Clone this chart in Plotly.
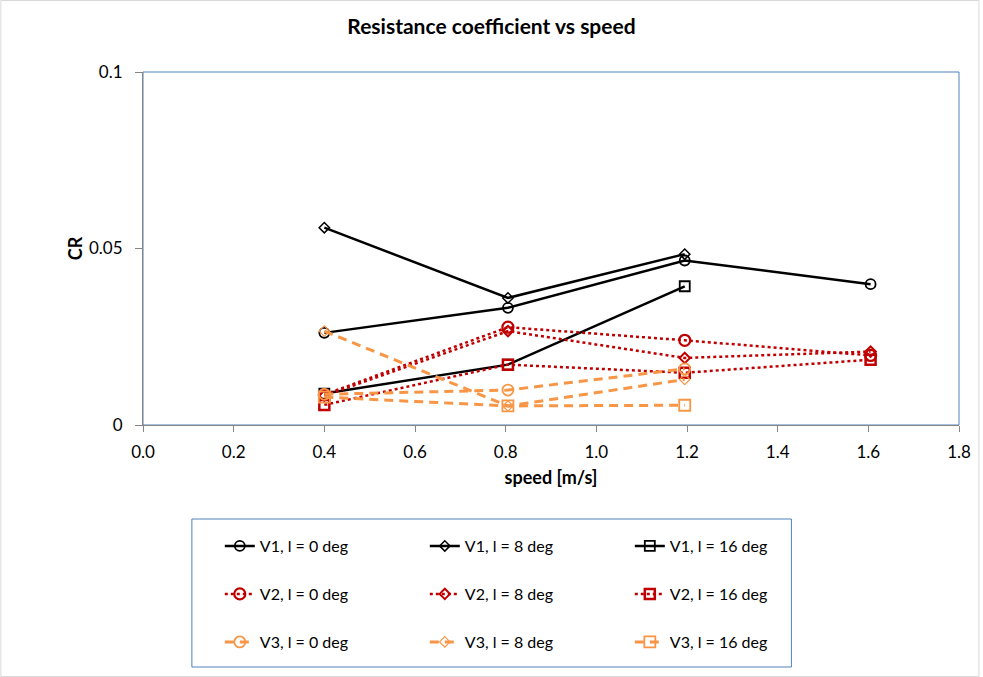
import plotly.graph_objects as go

W, H = 983, 677
L, R, T, B = 143, 22, 72, 252

speed = [0.40, 0.805, 1.195, 1.605]

names = ["V1, l = 0 deg", "V1, l = 8 deg", "V1, l = 16 deg",
         "V2, l = 0 deg", "V2, l = 8 deg", "V2, l = 16 deg",
         "V3, l = 0 deg", "V3, l = 8 deg", "V3, l = 16 deg"]

cr_v1_0 = [0.0261, 0.0332, 0.0466, 0.0399]
cr_v1_8 = [0.0559, 0.0360, 0.0484]
cr_v1_16 = [0.0089, 0.0171, 0.0393]
cr_v2_0 = [0.0086, 0.0277, 0.0240, 0.0197]
cr_v2_8 = [0.0083, 0.0266, 0.0190, 0.0208]
cr_v2_16 = [0.0057, 0.0171, 0.0148, 0.0185]
cr_v3_0 = [0.0087, 0.0099, 0.0159]
cr_v3_8 = [0.0266, 0.0054, 0.0129]
cr_v3_16 = [0.0079, 0.0054, 0.0056]

series = [cr_v1_0, cr_v1_8, cr_v1_16, cr_v2_0, cr_v2_8, cr_v2_16, cr_v3_0, cr_v3_8, cr_v3_16]

BLACK, RED, ORANGE = "#000000", "#C00000", "#F79646"
colors = [BLACK] * 3 + [RED] * 3 + [ORANGE] * 3
dashes = ["solid"] * 3 + ["dot"] * 3 + ["9px,6px"] * 3
widths = [2.5] * 3 + [2.5] * 3 + [3] * 3
symbols = ["circle-open", "diamond-open", "square-open"] * 3
msizes = [10, 8, 10, 11, 8, 10, 11, 8, 11]
mlw = [1.8, 1.5, 1.8, 2.2, 2, 2.5, 1.8, 1.2, 1.8]
legends = ["legend"] * 3 + ["legend2"] * 3 + ["legend3"] * 3

FONT = "Lato"

fig = go.Figure()
for i, ys in enumerate(series):
    fig.add_trace(go.Scatter(
        x=speed[:len(ys)], y=ys, name=names[i], mode="lines+markers",
        line=dict(color=colors[i], width=widths[i], dash=dashes[i]),
        marker=dict(symbol=symbols[i], size=msizes[i], color=colors[i],
                    line=dict(width=mlw[i], color=colors[i])),
        legend=legends[i],
    ))

pw = W - L - R
ph = H - T - B

def px2x(px):
    return (px - L) / pw

def px2y(py):
    return (H - B - py) / ph

leg_common = dict(orientation="h", xanchor="left", yanchor="middle",
                  font=dict(family=FONT, size=16, color="#000000"),
                  entrywidth=160, entrywidthmode="pixels", itemwidth=30,
                  bgcolor="rgba(0,0,0,0)", borderwidth=0, tracegroupgap=0)

fig.update_layout(
    width=W, height=H,
    margin=dict(l=L, r=R, t=T, b=B),
    paper_bgcolor="white", plot_bgcolor="white",
    title=dict(text="<b>Resistance coefficient vs speed</b>", x=0.5, xanchor="center",
               y=1 - 27 / H, yanchor="middle",
               font=dict(family=FONT, size=21, color="#000000")),
    font=dict(family=FONT, size=17, color="#000000"),
    xaxis=dict(range=[0, 1.8], dtick=0.2, tick0=0, tickformat=".1f",
               showgrid=False, zeroline=False, showline=True, linecolor="#868686",
               linewidth=1, ticks="outside", ticklen=6, tickcolor="#868686",
               ticklabelstandoff=6,
               tickfont=dict(family=FONT, size=17),
               title=dict(text="<b>speed [m/s]</b>", font=dict(family=FONT, size=18), standoff=9)),
    yaxis=dict(range=[0, 0.1], dtick=0.05, tick0=0,
               showgrid=False, zeroline=False, showline=True, linecolor="#868686",
               linewidth=1, ticks="outside", ticklen=7, tickcolor="#868686",
               ticklabelstandoff=9,
               tickfont=dict(family=FONT, size=17),
               title=dict(text="<b>CR</b>", font=dict(family=FONT, size=18), standoff=1)),
    legend=dict(x=px2x(220), y=px2y(546), **leg_common),
    legend2=dict(x=px2x(220), y=px2y(594), **leg_common),
    legend3=dict(x=px2x(220), y=px2y(642), **leg_common),
    showlegend=True,
)

# plot area border (top / right in blue)
fig.add_shape(type="rect", xref="paper", yref="paper", x0=0, y0=0, x1=1, y1=1,
              line=dict(color="#4F81BD", width=1), layer="below")
# legend box
fig.add_shape(type="rect", xref="paper", yref="paper",
              x0=px2x(192), x1=px2x(793), y0=px2y(519), y1=px2y(667),
              line=dict(color="#4F81BD", width=1), layer="below")
# outer chart border
fig.add_shape(type="rect", xref="paper", yref="paper",
              x0=px2x(0.5), x1=px2x(981), y0=px2y(0.5), y1=px2y(676.5),
              line=dict(color="#D9D9D9", width=1), layer="below")

fig.write_html("out.html")
